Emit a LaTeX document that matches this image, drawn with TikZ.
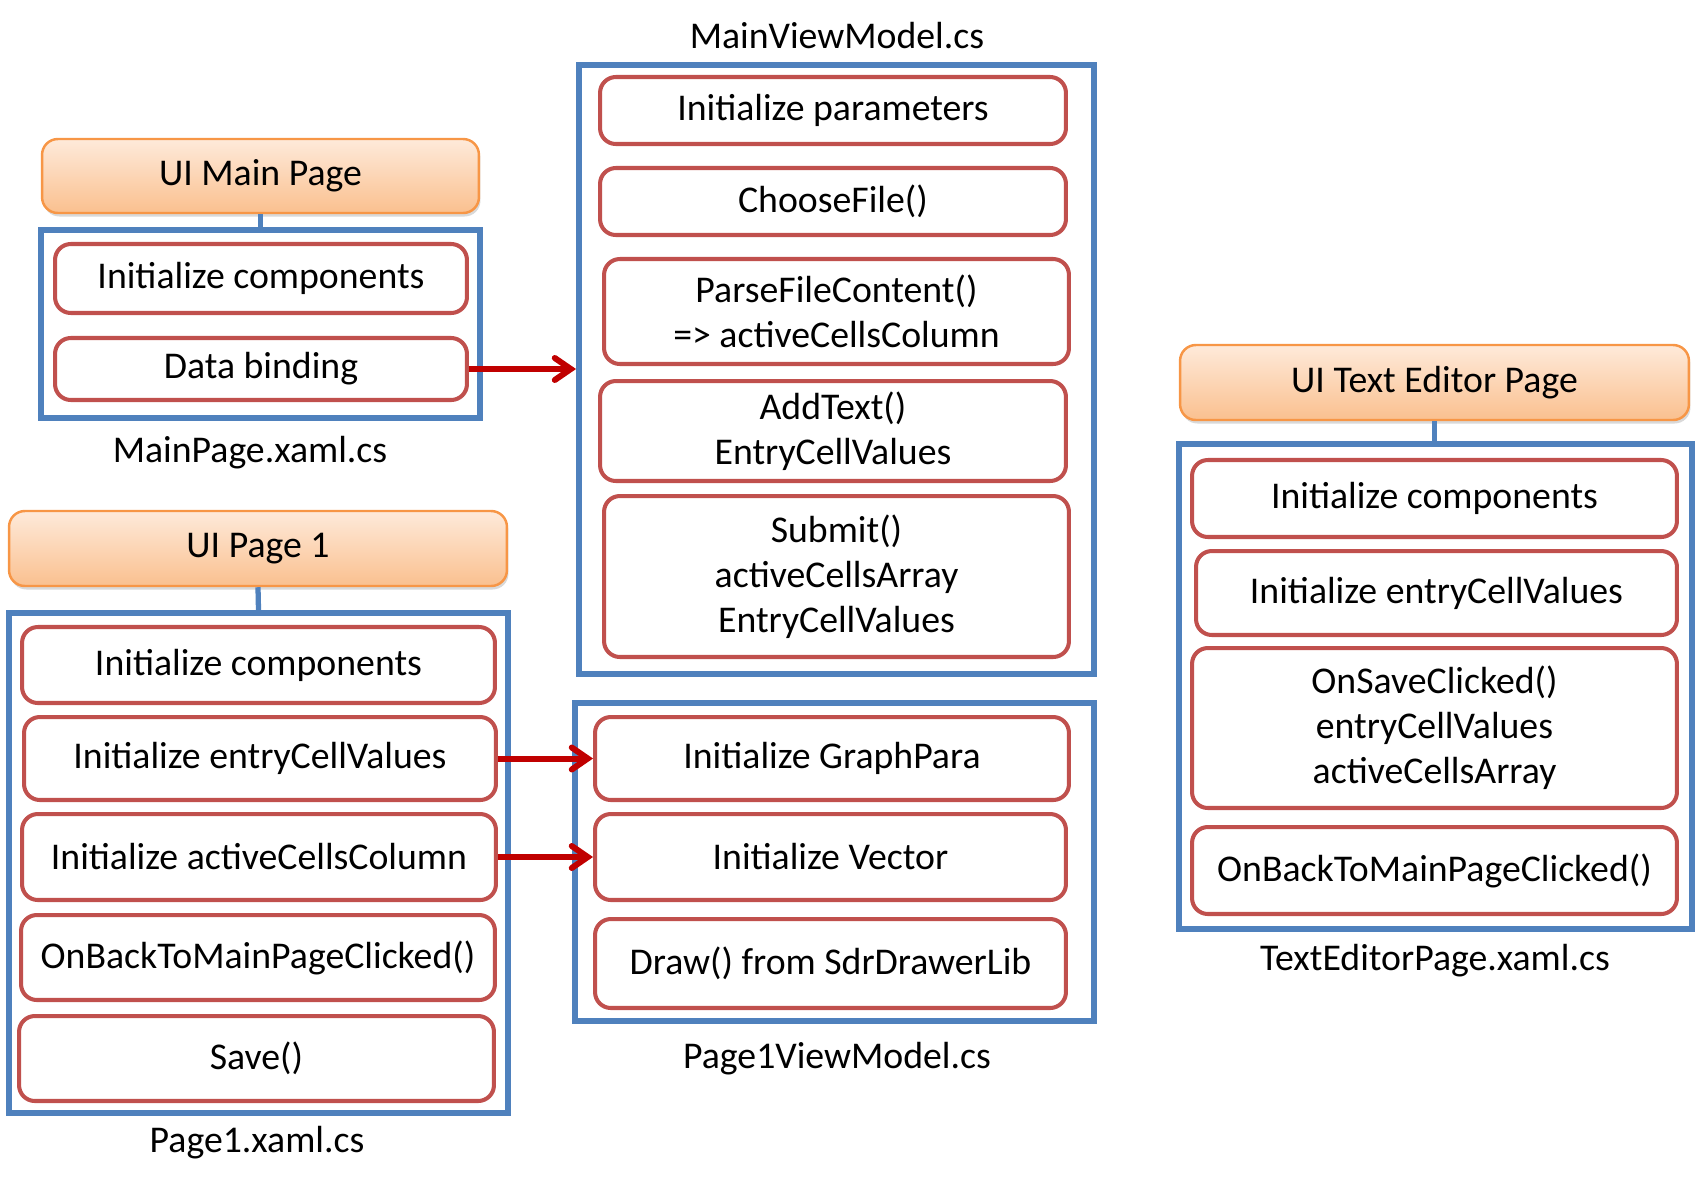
\documentclass[tikz,border=0pt]{standalone}
\usepackage{fontspec}
\setmainfont{Carlito}
\definecolor{fileblue}{RGB}{79, 129, 189}
\definecolor{stepred}{RGB}{192, 80, 77}
\definecolor{arrowred}{RGB}{192, 0, 0}
\definecolor{headorange}{RGB}{247, 150, 70}
\definecolor{headtop}{RGB}{254, 234, 218}
\definecolor{headbot}{RGB}{250, 192, 143}
\usetikzlibrary{arrows.meta, positioning, calc, shadows}

\tikzset{
  pagehead/.style={draw=headorange, line width=1.4pt, rounded corners=9pt, top color=headtop, bottom color=headbot,
    inner sep=0pt, font=\fontsize{21.5}{25.5}\selectfont,
    drop shadow={shadow xshift=0.03cm, shadow yshift=-0.07cm, opacity=0.25, fill=black!60}},
  filebox/.style={draw=fileblue, line width=3.4pt, inner sep=0pt},
  stepbox/.style={draw=stepred, line width=2.3pt, rounded corners=9pt, fill=white, align=center,
    inner sep=0pt, font=\fontsize{21.5}{25.5}\selectfont},
  filelbl/.style={font=\fontsize{21.5}{25.5}\selectfont},
  headlink/.style={draw=fileblue, line width=3pt},
  flowarrow/.style={draw=arrowred, line width=3.4pt,
    -{Straight Barb[length=3.2mm, width=4.4mm, line width=3.4pt, line cap=round]}}
}

\begin{document}
\begin{tikzpicture}[x=0.02cm, y=-0.02cm]
  \useasboundingbox (0,0) rectangle (1698,1188);

  % MainPage.xaml.cs
  \node[pagehead, minimum width=8.74cm, minimum height=1.48cm] (mainhead) at (260.5,176) {UI Main Page};
  \node[filebox, minimum width=8.78cm, minimum height=3.76cm] (mainbox) at (260.5,324) {};
  \node[stepbox, minimum width=8.24cm, minimum height=1.38cm] (maininit) at (261,278.5) {Initialize components};
  \node[stepbox, minimum width=8.24cm, minimum height=1.24cm] (mainbind) at (261,369) {Data binding};
  \node[filelbl] (mainlbl) at (250,453) {MainPage.xaml.cs};

  % Page1.xaml.cs
  \node[pagehead, minimum width=9.96cm, minimum height=1.5cm] (p1head) at (258,548.5) {UI Page 1};
  \node[filebox, minimum width=9.98cm, minimum height=10cm] (p1box) at (258.5,863) {};
  \node[stepbox, minimum width=9.46cm, minimum height=1.52cm] (p1init) at (258.5,665) {Initialize components};
  \node[stepbox, minimum width=9.44cm, minimum height=1.66cm] (p1entry) at (260,758.5) {Initialize entryCellValues};
  \node[stepbox, minimum width=9.48cm, minimum height=1.72cm] (p1active) at (259,857) {Initialize activeCellsColumn};
  \node[stepbox, minimum width=9.48cm, minimum height=1.7cm] (p1back) at (258,957.5) {OnBackToMainPageClicked()};
  \node[stepbox, minimum width=9.5cm, minimum height=1.7cm] (p1save) at (256.5,1058.5) {Save()};
  \node[filelbl] (p1lbl) at (257,1143) {Page1.xaml.cs};

  % MainViewModel.cs
  \node[filelbl] (mvmlbl) at (837,36) {MainViewModel.cs};
  \node[filebox, minimum width=10.3cm, minimum height=12.18cm] (mvmbox) at (836.5,369.5) {};
  \node[stepbox, minimum width=9.32cm, minimum height=1.34cm] (mvminit) at (833,110.5) {Initialize parameters};
  \node[stepbox, minimum width=9.32cm, minimum height=1.34cm] (mvmchoose) at (833,201.5) {ChooseFile()};
  \node[stepbox, minimum width=9.3cm, minimum height=2.1cm] (mvmparse) at (836.5,311.5) {ParseFileContent()\\=> activeCellsColumn};
  \node[stepbox, minimum width=9.32cm, minimum height=2cm] (mvmadd) at (833,431) {AddText()\\EntryCellValues};
  \node[stepbox, minimum width=9.3cm, minimum height=3.22cm] (mvmsubmit) at (836.5,576.5) {Submit()\\activeCellsArray\\EntryCellValues};

  % Page1ViewModel.cs
  \node[filebox, minimum width=10.38cm, minimum height=6.36cm] (p1vmbox) at (834.5,862) {};
  \node[stepbox, minimum width=9.48cm, minimum height=1.66cm] (p1vmgraph) at (832,758.5) {Initialize GraphPara};
  \node[stepbox, minimum width=9.42cm, minimum height=1.72cm] (p1vmvector) at (830.5,857) {Initialize Vector};
  \node[stepbox, minimum width=9.42cm, minimum height=1.78cm] (p1vmdraw) at (830.5,963.5) {Draw() from SdrDrawerLib};
  \node[filelbl] (p1vmlbl) at (837,1059) {Page1ViewModel.cs};

  % TextEditorPage.xaml.cs
  \node[pagehead, minimum width=10.18cm, minimum height=1.5cm] (tehead) at (1434.5,382.5) {UI Text Editor Page};
  \node[filebox, minimum width=10.26cm, minimum height=9.7cm] (tebox) at (1435.5,686.5) {};
  \node[stepbox, minimum width=9.7cm, minimum height=1.54cm] (teinit) at (1434.5,498.5) {Initialize components};
  \node[stepbox, minimum width=9.62cm, minimum height=1.68cm] (teentry) at (1436.5,593) {Initialize entryCellValues};
  \node[stepbox, minimum width=9.7cm, minimum height=3.2cm] (tesave) at (1434.5,728) {OnSaveClicked()\\entryCellValues\\activeCellsArray};
  \node[stepbox, minimum width=9.7cm, minimum height=1.74cm] (teback) at (1434.5,870.5) {OnBackToMainPageClicked()};
  \node[filelbl] (telbl) at (1435,961) {TextEditorPage.xaml.cs};

  % header links
  \draw[headlink] (mainhead.south) -- (mainbox.north);
  \draw[headlink] (p1head.south) -- (p1box.north);
  \draw[headlink] (tehead.south) -- (tehead.south |- tebox.north);

  % calls
  \draw[flowarrow] (mainbind.east) -- (mainbind.east -| mvmbox.west);
  \draw[flowarrow] (p1entry.east) -- (p1entry.east -| p1vmgraph.west);
  \draw[flowarrow] (p1active.east) -- (p1active.east -| p1vmvector.west);
\end{tikzpicture}
\end{document}
